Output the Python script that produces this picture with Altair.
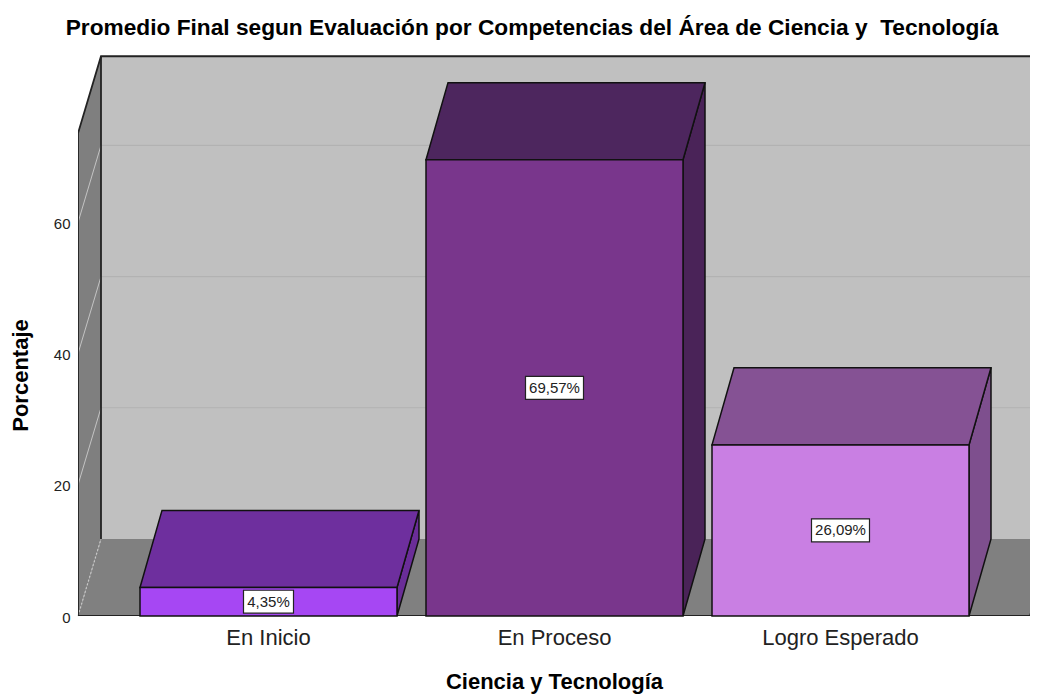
import altair as alt
import pandas as pd

# ---- values ----
categories = ["En Inicio", "En Proceso", "Logro Esperado"]
percentages = [4.35, 69.57, 26.09]
labels = ["4,35%", "69,57%", "26,09%"]
front_colors = ["#a647f3", "#79368c", "#c97fe3"]
top_colors = ["#6e2f9e", "#4d265e", "#855294"]
side_colors = ["#6a2d98", "#4a2358", "#7e4f8e"]
y_ticks = [0, 20, 40, 60]
wall_ticks = [20, 40, 60]

# geometry of the pseudo 3D box, in axis units
X_MAX = 952
Y_MAX = 86.3
DEPTH_X = 23
BAR_DEPTH_X = 22
DEPTH_Y = 11.75
WALL_TOP = 73.6
BAR_WIDTH = 257
BAR_LEFTS = [62, 348, 634]
FLOOR_END = 952
FONT = "Liberation Sans"

polys = []


def poly(name, fill, pts, stroke):
    for x, lo, hi in pts:
        polys.append(dict(face=name, fill=fill, x=x, lo=lo, hi=hi, stroke=stroke))


poly("wall", "#c0c0c0", [(DEPTH_X, DEPTH_Y, WALL_TOP + DEPTH_Y), (X_MAX + DEPTH_X, DEPTH_Y, WALL_TOP + DEPTH_Y)], "none")
poly("left", "#7f7f7f", [(0, 0, WALL_TOP), (DEPTH_X, DEPTH_Y, WALL_TOP + DEPTH_Y)], "none")
poly("floor", "#808080", [(0, 0, 0), (DEPTH_X, 0, DEPTH_Y), (FLOOR_END, 0, DEPTH_Y), (FLOOR_END + DEPTH_X, DEPTH_Y, DEPTH_Y)], "none")

for i, (v, left) in enumerate(zip(percentages, BAR_LEFTS)):
    right = left + BAR_WIDTH
    poly(f"side{i}", side_colors[i], [(right, 0, v), (right + BAR_DEPTH_X, DEPTH_Y, v + DEPTH_Y)], "#111111")
    poly(f"top{i}", top_colors[i], [(left, v, v), (left + BAR_DEPTH_X, v, v + DEPTH_Y), (right, v, v + DEPTH_Y), (right + BAR_DEPTH_X, v + DEPTH_Y, v + DEPTH_Y)], "#111111")
    poly(f"front{i}", front_colors[i], [(left, 0, v), (right, 0, v)], "#111111")

faces = pd.DataFrame(polys)
faces["rank"] = faces["face"].map({n: k for k, n in enumerate(dict.fromkeys(faces["face"]))})

xs = alt.Scale(domain=[0, X_MAX], nice=False, zero=False)
ys = alt.Scale(domain=[0, Y_MAX], nice=False, zero=False)

centers = [l + BAR_WIDTH // 2 for l in BAR_LEFTS]
label_expr = "{" + ",".join(f"'{c}':'{n}'" for c, n in zip(centers, categories)) + "}[datum.value]"

x_axis = alt.Axis(
    values=centers, labelExpr=label_expr, title="Ciencia y Tecnología",
    domain=False, ticks=False, grid=False, labelFont=FONT, labelFontSize=22,
    labelColor="#222222", labelPadding=11, titleFont=FONT, titleFontSize=22,
    titleFontWeight="bold", titleColor="#000000", titlePadding=23, titleX=476,
    labelOverlap=False,
)
y_axis = alt.Axis(
    values=y_ticks, title="Porcentaje", domain=False, ticks=False, grid=False,
    labelFont=FONT, labelFontSize=15, labelColor="#222222", labelPadding=8, labelOffset=1,
    titleFont=FONT, titleFontSize=22, titleFontWeight="bold", titleColor="#000000",
    titlePadding=21, titleY=325,
)


def X(field):
    return alt.X(field, scale=xs, axis=x_axis)


def Y(field):
    return alt.Y(field, scale=ys, axis=y_axis, stack=None)


grid_rows = []
for t in wall_ticks:
    grid_rows.append(dict(g=f"b{t}", kind="back", i=0, x=DEPTH_X, y=t + DEPTH_Y))
    grid_rows.append(dict(g=f"b{t}", kind="back", i=1, x=X_MAX, y=t + DEPTH_Y))
    grid_rows.append(dict(g=f"l{t}", kind="side", i=0, x=0, y=t))
    grid_rows.append(dict(g=f"l{t}", kind="side", i=1, x=DEPTH_X, y=t + DEPTH_Y))
grid = pd.DataFrame(grid_rows)

outline = pd.DataFrame(
    [dict(g="o", i=k, x=a, y=b) for k, (a, b) in enumerate([
        (0, 0), (0, WALL_TOP), (DEPTH_X, WALL_TOP + DEPTH_Y), (X_MAX, WALL_TOP + DEPTH_Y)])]
    + [dict(g="p", i=k, x=a, y=b) for k, (a, b) in enumerate([
        (DEPTH_X, DEPTH_Y), (DEPTH_X, WALL_TOP + DEPTH_Y)])]
    + [dict(g="q", i=k, x=a, y=b) for k, (a, b) in enumerate([
        (0, 0), (FLOOR_END, 0), (FLOOR_END + DEPTH_X, DEPTH_Y)])]
)
dotted = pd.DataFrame([dict(g="d", i=0, x=0, y=0), dict(g="d", i=1, x=DEPTH_X, y=DEPTH_Y)])

backdrop = (
    alt.Chart(faces[faces["stroke"] == "none"])
    .mark_area(clip=True)
    .encode(x=X("x:Q"), y=Y("hi:Q"), y2="lo:Q", fill=alt.Fill("fill:N", scale=None), detail="rank:N")
)
back_grid = (
    alt.Chart(grid[grid["kind"] == "back"]).mark_line(color="#b2b2b2", strokeWidth=1.2, clip=True)
    .encode(x=X("x:Q"), y=Y("y:Q"), detail="g:N", order="i:Q")
)
side_grid = (
    alt.Chart(grid[grid["kind"] == "side"]).mark_line(color="#c4c4c4", strokeWidth=1, clip=True)
    .encode(x=X("x:Q"), y=Y("y:Q"), detail="g:N", order="i:Q")
)
dots = (
    alt.Chart(dotted).mark_line(color="#c8c8c8", strokeWidth=1.2, strokeDash=[2, 2])
    .encode(x=X("x:Q"), y=Y("y:Q"), detail="g:N", order="i:Q")
)
frame = (
    alt.Chart(outline).mark_line(color="#222222", strokeWidth=1.8, clip=True)
    .encode(x=X("x:Q"), y=Y("y:Q"), detail="g:N", order="i:Q")
)

bar_layers = []
solid = faces[faces["stroke"] != "none"]
for name in solid["face"].drop_duplicates():
    bar_layers.append(
        alt.Chart(solid[solid["face"] == name])
        .mark_area(stroke="#111111", strokeWidth=1.5, strokeJoin="miter")
        .encode(x=X("x:Q"), y=Y("hi:Q"), y2="lo:Q", fill=alt.Fill("fill:N", scale=None))
    )

label_df = pd.DataFrame(
    dict(
        label=labels,
        x=[l + BAR_WIDTH / 2 for l in BAR_LEFTS],
        half=[(8 * len(t) + 10) / 2 for t in labels],
        y=[v / 2 for v in percentages],
    )
)
label_df["x0"] = label_df["x"] - label_df["half"]
label_df["x1"] = label_df["x"] + label_df["half"]
label_df["y0"] = label_df["y"] - 1.75
label_df["y1"] = label_df["y"] + 1.75

boxes = (
    alt.Chart(label_df).mark_rect(fill="#ffffff", stroke="#222222", strokeWidth=1.2)
    .encode(x=X("x0:Q"), x2="x1:Q", y=Y("y0:Q"), y2="y1:Q")
)
texts = (
    alt.Chart(label_df).mark_text(font=FONT, fontSize=15, color="#222222", baseline="middle", align="center")
    .encode(x=X("x:Q"), y=Y("y:Q"), text="label:N")
)

chart = (
    alt.layer(backdrop, back_grid, side_grid, dots, frame, *bar_layers, boxes, texts)
    .properties(
        width=X_MAX,
        height=566,
        autosize=alt.AutoSizeParams(type="none"),
        padding={"left": 70, "top": 42, "right": 0, "bottom": 78},
        background="#ffffff",
        title=alt.TitleParams(
            "Promedio Final segun Evaluación por Competencias del Área de Ciencia y\u00a0 Tecnología",
            font=FONT, fontSize=22.7, fontWeight="bold", color="#000000",
            anchor="middle", dx=-22, offset=10,
        ),
    )
    .configure_view(stroke=None)
)

chart.save("out.html", embed_options={"renderer": "svg", "actions": False})
